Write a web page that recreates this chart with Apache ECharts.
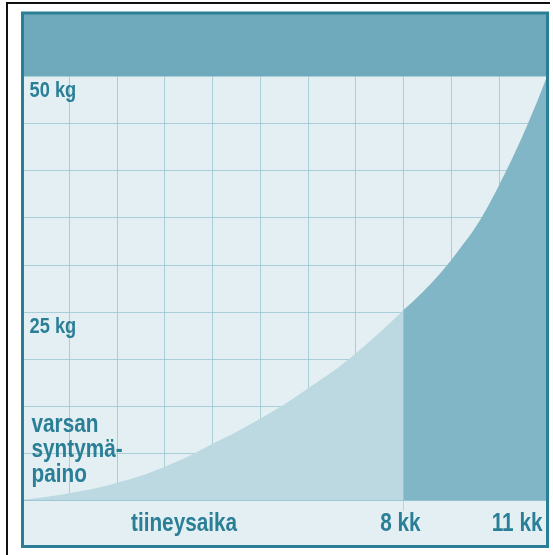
<!DOCTYPE html>
<html>
<head>
<meta charset="utf-8">
<script src="https://cdn.jsdelivr.net/npm/echarts@6/dist/echarts.min.js"></script>
<style>
  html, body { margin: 0; padding: 0; background: #fff; }
  #main { width: 553px; height: 555px; }
</style>
</head>
<body>
<div id="main"></div>
<script>
// tiineysaika (kk) ja sikiön paino (kg), luettu kuvasta
var months   = [0,   1,   2,   3,   4,    5,    6,    7,    8,    9,    10,   11];
var weightKg = [5.1, 5.8, 6.9, 8.6, 11.0, 13.7, 16.9, 20.6, 25.2, 30.5, 38.4, 49.9];
var splitMonth = 8;

// akselien tekstit
var xLabelMonths = [8, 11];
var xLabelTexts  = ['8 kk', '11 kk'];
var yLabelValues = [25, 50];
var yLabelTexts  = ['25 kg', '50 kg'];
var axisTitle = 'tiineysaika';
var birthText = 'varsan\nsyntymä-\npaino';

var teal = '#2a7f96';
var gridLine = 'rgba(148,195,207,0.75)';
var narrow = 0.83; // tiivistetty kirjasin

var lightPart = [], darkPart = [];
for (var i = 0; i < months.length; i++) {
    if (months[i] <= splitMonth) lightPart.push([months[i], weightKg[i]]);
    if (months[i] >= splitMonth) darkPart.push([months[i], weightKg[i]]);
}

var chart = echarts.init(document.getElementById('main'));

var option = {
    backgroundColor: '#ffffff',
    animation: false,
    grid: { left: 21.5, right: 6.3, top: 76, bottom: 54.3 },
    xAxis: {
        type: 'value', min: 0, max: 11, interval: 1, z: 3,
        axisLine: { show: true, lineStyle: { color: gridLine, width: 1 } },
        axisTick: { show: false },
        axisLabel: { show: false },
        splitLine: { show: true, lineStyle: { color: gridLine, width: 1 } }
    },
    yAxis: {
        type: 'value', min: 5, max: 50, interval: 5, z: 3,
        axisLine: { show: false },
        axisTick: { show: false },
        axisLabel: { show: false },
        splitLine: { show: true, lineStyle: { color: gridLine, width: 1 } }
    },
    series: [
        {
            type: 'line', data: lightPart, smooth: 0.5,
            symbol: 'none', lineStyle: { width: 0 },
            areaStyle: { color: '#bcd9e1', opacity: 1, origin: 'start' }
        },
        {
            type: 'line', data: darkPart, smooth: 0.5,
            symbol: 'none', lineStyle: { width: 0 },
            areaStyle: { color: '#80b6c5', opacity: 1, origin: 'start' }
        }
    ]
};
chart.setOption(option);

function label(text, x, y, size, align) {
    return {
        type: 'text', z: 50, x: x, y: y, scaleX: narrow,
        style: {
            text: text, fill: teal, align: align || 'left', verticalAlign: 'top',
            font: 'bold ' + size + 'px "Liberation Sans", Arial, sans-serif', lineHeight: 25
        }
    };
}

// kehys, otsikkopalkki ja tekstit
var leftX = chart.convertToPixel({ xAxisIndex: 0 }, 0);
var baseY = chart.convertToPixel({ yAxisIndex: 0 }, 5);
var tickX = chart.convertToPixel({ xAxisIndex: 0 }, splitMonth);
var g = [
    { type: 'rect', z: -100, shape: { x: 22, y: 12, width: 526, height: 535 }, style: { fill: '#e3eff3' } },
    { type: 'rect', z: 100, shape: { x: 22, y: 13, width: 525, height: 63 }, style: { fill: '#6eaabb' } },
    { type: 'rect', z: 101, shape: { x: 22.5, y: 13, width: 525, height: 533.5 }, style: { fill: 'none', stroke: teal, lineWidth: 3 } },
    { type: 'line', z: 101, shape: { x1: 7, y1: 3, x2: 550, y2: 3 }, style: { stroke: '#111', lineWidth: 2 } },
    { type: 'line', z: 101, shape: { x1: 7, y1: 2, x2: 7, y2: 555 }, style: { stroke: '#111', lineWidth: 2 } },
    { type: 'line', z: 50, shape: { x1: tickX, y1: baseY, x2: tickX, y2: baseY + 10 }, style: { stroke: '#b5d6de', lineWidth: 1 } },
    label(axisTitle, 131, baseY + 11, 25),
    label(birthText, leftX + 10, 413, 25)
];
for (var j = 0; j < yLabelValues.length; j++) {
    g.push(label(yLabelTexts[j], leftX + 8, chart.convertToPixel({ yAxisIndex: 0 }, yLabelValues[j]) + 2, 22));
}
for (var k = 0; k < xLabelMonths.length; k++) {
    var px = chart.convertToPixel({ xAxisIndex: 0 }, xLabelMonths[k]);
    if (k === xLabelMonths.length - 1) {
        g.push(label(xLabelTexts[k], px - 55, baseY + 11, 25));
    } else {
        g.push(label(xLabelTexts[k], px - 3, baseY + 11, 25, 'center'));
    }
}
chart.setOption({ graphic: g });
</script>
</body>
</html>
